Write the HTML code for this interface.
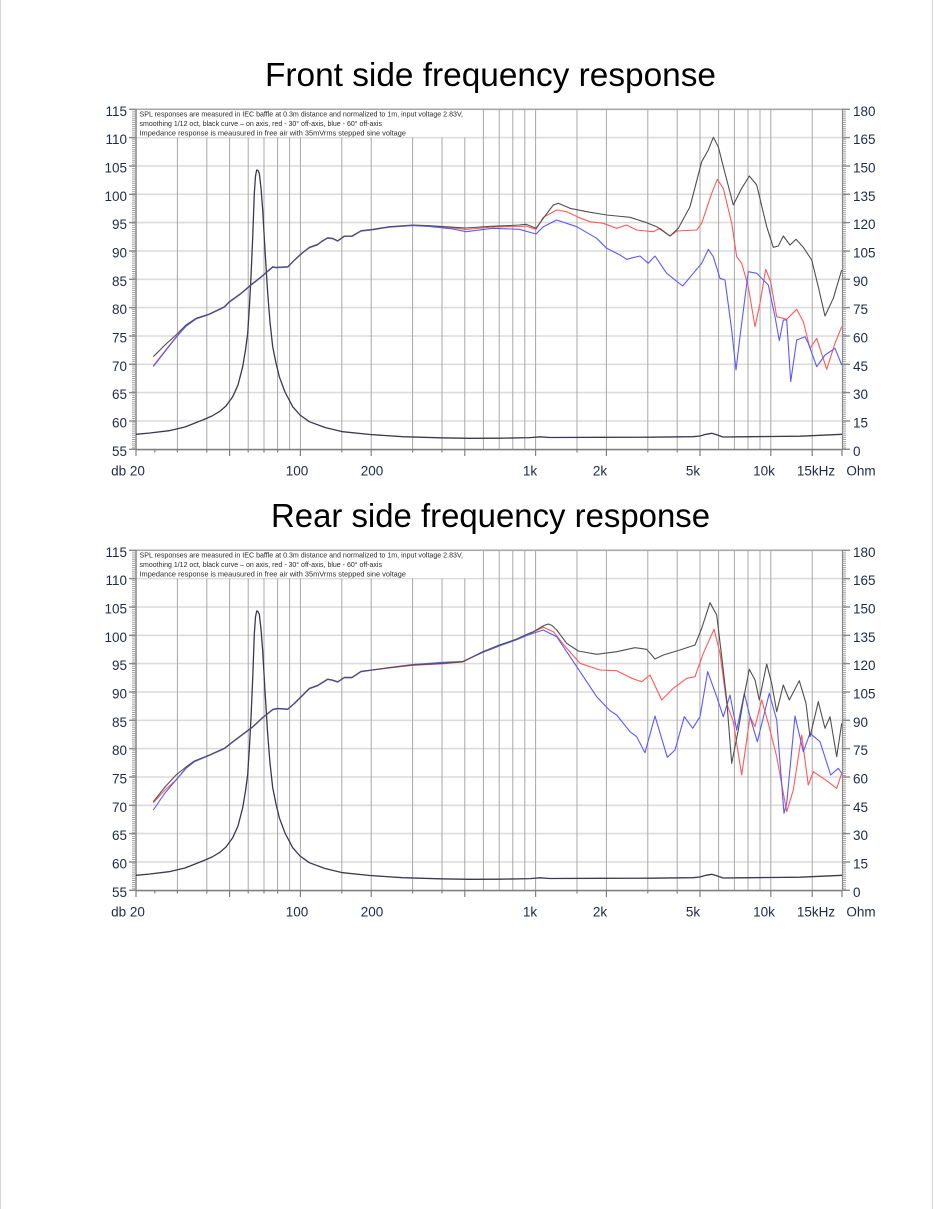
<!DOCTYPE html>
<html><head><meta charset="utf-8"><style>
html,body{margin:0;padding:0;background:#fff;}
svg{display:block;}
text{font-family:"Liberation Sans",Arial,sans-serif;}
</style></head><body>
<svg xmlns="http://www.w3.org/2000/svg" width="934" height="1209" viewBox="0 0 934 1209">
<rect x="0" y="0" width="934" height="1209" fill="#fff"/>
<line x1="0.5" y1="0" x2="0.5" y2="1209" stroke="#d4d4d4" stroke-width="1"/>
<line x1="932.5" y1="0" x2="932.5" y2="1209" stroke="#d4d4d4" stroke-width="1"/>

<defs>
<g id="frame">
  <!-- horizontal grid -->
  <g stroke="#dcdcdc" stroke-width="1.6">
    <line x1="136" y1="137.6" x2="842" y2="137.6"/>
    <line x1="136" y1="166" x2="842" y2="166"/>
    <line x1="136" y1="194.3" x2="842" y2="194.3"/>
    <line x1="136" y1="222.6" x2="842" y2="222.6"/>
    <line x1="136" y1="251" x2="842" y2="251"/>
    <line x1="136" y1="279.3" x2="842" y2="279.3"/>
    <line x1="136" y1="307.6" x2="842" y2="307.6"/>
    <line x1="136" y1="336" x2="842" y2="336"/>
    <line x1="136" y1="364.3" x2="842" y2="364.3"/>
    <line x1="136" y1="392.6" x2="842" y2="392.6"/>
    <line x1="136" y1="421" x2="842" y2="421"/>
  </g>
  <!-- vertical grid -->
  <g stroke="#a8a8a8" stroke-width="1">
    <line x1="177.4" y1="137.6" x2="177.4" y2="449.3"/>
    <line x1="206.8" y1="137.6" x2="206.8" y2="449.3"/>
    <line x1="229.6" y1="137.6" x2="229.6" y2="449.3"/>
    <line x1="248.2" y1="137.6" x2="248.2" y2="449.3"/>
    <line x1="264" y1="137.6" x2="264" y2="449.3"/>
    <line x1="277.6" y1="137.6" x2="277.6" y2="449.3"/>
    <line x1="289.6" y1="137.6" x2="289.6" y2="449.3"/>
    <line x1="300.4" y1="137.6" x2="300.4" y2="449.3"/>
    <line x1="341.8" y1="137.6" x2="341.8" y2="449.3"/>
    <line x1="371.2" y1="137.6" x2="371.2" y2="449.3"/>
    <line x1="412.6" y1="137.6" x2="412.6" y2="449.3"/>
    <line x1="442" y1="137.6" x2="442" y2="449.3"/>
    <line x1="464.8" y1="137.6" x2="464.8" y2="449.3"/>
    <line x1="483.4" y1="109.3" x2="483.4" y2="449.3"/>
    <line x1="499.2" y1="109.3" x2="499.2" y2="449.3"/>
    <line x1="512.8" y1="109.3" x2="512.8" y2="449.3"/>
    <line x1="524.8" y1="109.3" x2="524.8" y2="449.3"/>
    <line x1="535.6" y1="109.3" x2="535.6" y2="449.3"/>
    <line x1="577" y1="109.3" x2="577" y2="449.3"/>
    <line x1="606.4" y1="109.3" x2="606.4" y2="449.3"/>
    <line x1="647.8" y1="109.3" x2="647.8" y2="449.3"/>
    <line x1="677.2" y1="109.3" x2="677.2" y2="449.3"/>
    <line x1="700" y1="109.3" x2="700" y2="449.3"/>
    <line x1="718.6" y1="109.3" x2="718.6" y2="449.3"/>
    <line x1="734.4" y1="109.3" x2="734.4" y2="449.3"/>
    <line x1="748" y1="109.3" x2="748" y2="449.3"/>
    <line x1="760" y1="109.3" x2="760" y2="449.3"/>
    <line x1="770.8" y1="109.3" x2="770.8" y2="449.3"/>
    <line x1="812.2" y1="109.3" x2="812.2" y2="449.3"/>
  </g>
  <!-- top border -->
  <line x1="136" y1="109.3" x2="842" y2="109.3" stroke="#a9a9a9" stroke-width="1.6"/>
  <!-- left axis ruler -->
  <line x1="133.5" y1="109.3" x2="133.5" y2="449.3" stroke="#a0a0a0" stroke-width="3" stroke-dasharray="1 1.1"/>
  <line x1="136" y1="109.3" x2="136" y2="450" stroke="#7a7a7a" stroke-width="1.4"/>
  <g stroke="#8a8a8a" stroke-width="1.4">
    <line x1="129" y1="109.3" x2="136" y2="109.3"/><line x1="129" y1="137.6" x2="136" y2="137.6"/>
    <line x1="129" y1="166" x2="136" y2="166"/><line x1="129" y1="194.3" x2="136" y2="194.3"/>
    <line x1="129" y1="222.6" x2="136" y2="222.6"/><line x1="129" y1="251" x2="136" y2="251"/>
    <line x1="129" y1="279.3" x2="136" y2="279.3"/><line x1="129" y1="307.6" x2="136" y2="307.6"/>
    <line x1="129" y1="336" x2="136" y2="336"/><line x1="129" y1="364.3" x2="136" y2="364.3"/>
    <line x1="129" y1="392.6" x2="136" y2="392.6"/><line x1="129" y1="421" x2="136" y2="421"/>
    <line x1="129" y1="449.3" x2="136" y2="449.3"/>
  </g>
  <!-- right axis ruler -->
  <line x1="844.5" y1="109.3" x2="844.5" y2="449.3" stroke="#a0a0a0" stroke-width="3" stroke-dasharray="1 1.1"/>
  <line x1="842.5" y1="109.3" x2="842.5" y2="450" stroke="#8a8a8a" stroke-width="1.2"/>
  <g stroke="#8a8a8a" stroke-width="1.4">
    <line x1="842" y1="109.3" x2="850" y2="109.3"/><line x1="842" y1="137.6" x2="850" y2="137.6"/>
    <line x1="842" y1="166" x2="850" y2="166"/><line x1="842" y1="194.3" x2="850" y2="194.3"/>
    <line x1="842" y1="222.6" x2="850" y2="222.6"/><line x1="842" y1="251" x2="850" y2="251"/>
    <line x1="842" y1="279.3" x2="850" y2="279.3"/><line x1="842" y1="307.6" x2="850" y2="307.6"/>
    <line x1="842" y1="336" x2="850" y2="336"/><line x1="842" y1="364.3" x2="850" y2="364.3"/>
    <line x1="842" y1="392.6" x2="850" y2="392.6"/><line x1="842" y1="421" x2="850" y2="421"/>
    <line x1="842" y1="449.3" x2="850" y2="449.3"/>
  </g>
  <!-- bottom axis -->
  <line x1="136" y1="449.6" x2="842" y2="449.6" stroke="#808080" stroke-width="1.6"/>
  <g stroke="#808080" stroke-width="1.2">
    <line x1="136" y1="449" x2="136" y2="456"/>
    <line x1="154.8" y1="449" x2="154.8" y2="452.5"/>
    <line x1="177.4" y1="449" x2="177.4" y2="452.5"/>
    <line x1="206.8" y1="449" x2="206.8" y2="452.5"/>
    <line x1="229.6" y1="449" x2="229.6" y2="456"/>
    <line x1="248.2" y1="449" x2="248.2" y2="452.5"/>
    <line x1="264" y1="449" x2="264" y2="452.5"/>
    <line x1="277.6" y1="449" x2="277.6" y2="452.5"/>
    <line x1="300.4" y1="449" x2="300.4" y2="456"/>
    <line x1="341.8" y1="449" x2="341.8" y2="452.5"/>
    <line x1="371.2" y1="449" x2="371.2" y2="456"/>
    <line x1="412.6" y1="449" x2="412.6" y2="452.5"/>
    <line x1="442" y1="449" x2="442" y2="452.5"/>
    <line x1="464.8" y1="449" x2="464.8" y2="456"/>
    <line x1="535.6" y1="449" x2="535.6" y2="456"/>
    <line x1="577" y1="449" x2="577" y2="452.5"/>
    <line x1="606.4" y1="449" x2="606.4" y2="456"/>
    <line x1="647.8" y1="449" x2="647.8" y2="452.5"/>
    <line x1="677.2" y1="449" x2="677.2" y2="452.5"/>
    <line x1="700" y1="449" x2="700" y2="456"/>
    <line x1="770.8" y1="449" x2="770.8" y2="456"/>
    <line x1="812.2" y1="449" x2="812.2" y2="456"/>
    <line x1="842" y1="449" x2="842" y2="456"/>
  </g>
  <!-- text box -->
  <rect x="137" y="110.2" width="345.5" height="26.6" fill="#fff"/>
  <g font-size="7.3" fill="#2a2a2a">
    <text x="139.5" y="116.4" textLength="323.5" lengthAdjust="spacingAndGlyphs">SPL responses are measured in IEC baffle at  0.3m distance and normalized to 1m, input voltage 2.83V,</text>
    <text x="139.5" y="126" textLength="242.5" lengthAdjust="spacingAndGlyphs">smoothing 1/12 oct, black curve – on axis, red - 30° off-axis, blue - 60° off-axis</text>
    <text x="139.5" y="135.4" textLength="266.5" lengthAdjust="spacingAndGlyphs">Impedance response is meausured in free air with 35mVrms stepped sine voltage</text>
  </g>
  <!-- left labels -->
  <g font-size="13.5" fill="#1f2a48" text-anchor="end">
    <text x="127" y="116">115</text><text x="127" y="144.2">110</text>
    <text x="127" y="172.5">105</text><text x="127" y="200.8">100</text>
    <text x="127" y="229.1">95</text><text x="127" y="257.5">90</text>
    <text x="127" y="285.8">85</text><text x="127" y="314.1">80</text>
    <text x="127" y="342.5">75</text><text x="127" y="370.8">70</text>
    <text x="127" y="399.1">65</text><text x="127" y="427.5">60</text>
    <text x="127" y="455.8">55</text>
  </g>
  <!-- right labels -->
  <g font-size="13.5" fill="#1f2a48">
    <text x="853" y="116">180</text><text x="853" y="144.2">165</text>
    <text x="853" y="172.5">150</text><text x="853" y="200.8">135</text>
    <text x="853" y="229.1">120</text><text x="853" y="257.5">105</text>
    <text x="853" y="285.8">90</text><text x="853" y="314.1">75</text>
    <text x="853" y="342.5">60</text><text x="853" y="370.8">45</text>
    <text x="853" y="399.1">30</text><text x="853" y="427.5">15</text>
    <text x="853" y="455.8">0</text>
  </g>
  <!-- bottom labels -->
  <g font-size="13.5" fill="#1f2a48" text-anchor="middle">
    <text x="128" y="475.5">db 20</text>
    <text x="297" y="475.5">100</text>
    <text x="372" y="475.5">200</text>
    <text x="530" y="475.5">1k</text>
    <text x="600" y="475.5">2k</text>
    <text x="693" y="475.5">5k</text>
    <text x="764" y="475.5">10k</text>
    <text x="816" y="475.5">15kHz</text>
    <text x="861" y="475.5">Ohm</text>
  </g>
  <!-- impedance -->
  <polyline fill="none" stroke="#3a3a4c" stroke-width="1.3" stroke-linejoin="round" points="136,434.3 150,433 169,430.7 185,427 202.7,420 212,416 219.3,411.7 226,406 232.7,396.7 238,385 242.7,366.7 245.5,350 247.7,333.3 249.5,305 251,276.7 252.8,235 254.3,193.3 255.5,176 256.7,170 258,170.5 259.3,173.3 261,188 262.7,210 265,250 267.7,293.3 270,322 272.7,346.7 276,363 279.3,376.7 285,392 292.7,406.7 300,415 309.3,421.7 325,427.5 342.7,431.7 370,434.5 402.7,436.7 440,437.8 469.3,438.3 500,438.2 530,437.6 540,436.8 550,437.5 600,437.3 650,437.2 693,436.7 700,436 706,434.3 711.7,433.3 716,434.5 723,437 740,436.8 770,436.5 800,436.2 820,435.3 842,434.3"/>
</g>
</defs>

<!-- Titles -->
<text x="265" y="86" font-size="33" fill="#000" textLength="451" lengthAdjust="spacingAndGlyphs">Front side frequency response</text>
<text x="271" y="527" font-size="33" fill="#000" textLength="439" lengthAdjust="spacingAndGlyphs">Rear side frequency response</text>

<use href="#frame"/>
<use href="#frame" transform="translate(0,441)"/>

<!-- Chart 1 curves -->
<g fill="none" stroke-width="1.1" stroke-linejoin="round">
<polyline stroke="#ff5a5a" points="153.3,365.7 165,351 176,337 186,326 196,318.8 209.3,314.3 224.3,307 229.3,302 240,294.3 252.7,283.6 262,276.3 272.7,267 276,267.6 287.7,267 294.3,260.3 302,253.3 309.3,247.6 317.7,244.6 322,241.3 327.7,238 332.7,238.6 337.7,241 344.3,236.3 352,236.3 361,231 372.7,229.6 389.3,227 412.7,225.3 429.3,226 452.7,228 466,229.5 492.7,227 519.3,226.5 526,226 536,229.5 543.3,217.3 556.7,210 566.7,211.7 578.3,217.3 590,221.7 603.3,223.3 616.7,228.3 626.7,225 636.7,230 653.3,231.7 660,228.3 670,236 676.7,231 696.7,230 701.7,223.3 711.7,193.3 717.3,179.3 723.3,188.3 731.7,223.3 736.7,256.7 741.7,263.3 748.3,286.7 755,326.7 760,303.3 765.7,269.3 770.7,281.7 776.7,316.7 786.7,319.3 796.7,309.3 803.3,321.7 810,348.3 816.7,338.3 826.7,369.3 835,343.3 841.7,326.7"/>
<polyline stroke="#5a5aff" points="153.3,366.5 165,351.5 176,337.5 186,326.3 196,319 209.3,314.5 224.3,307.3 229.3,302.3 240,294.6 252.7,284 262,276.6 272.7,267.3 276,267.8 287.7,267.2 294.3,260.5 302,253.5 309.3,247.8 317.7,244.8 322,241.5 327.7,238.2 332.7,238.8 337.7,241.2 344.3,236.5 352,236.5 361,231.2 372.7,229.8 389.3,227.2 412.7,225.6 429.3,226.4 452.7,229 466,231.7 492.7,228.3 519.3,229.3 536,234 543.3,226.7 556.7,220 576.7,226.7 596.7,238.3 606.7,248.3 620,255 626.7,259.3 640,256 648.3,263.3 655,256 666.7,273.3 682.7,286 693.3,273.3 701.7,263.3 708.3,249.3 713.3,256.7 720,278.3 725,280 731.7,330 736,370 740,336.7 748.3,271.7 756.7,273.3 768.3,285 775,316.7 779.3,340.7 783.3,320 786.7,320 790.7,381.7 796.7,340 805,336.7 808.3,343.3 816.7,366.7 825,355 835,348.3 841.7,365"/>
<polyline stroke="#505050" points="153.3,356.7 165,345 176,335 186,325 196,318.3 209.3,314 224.3,306.7 229.3,301.7 240,294 252.7,283.3 262,276 272.7,266.7 276,267.3 287.7,266.7 294.3,260 302,253 309.3,247.3 317.7,244.3 322,241 327.7,237.7 332.7,238.3 337.7,240.7 344.3,236 352,236 361,230.7 372.7,229.3 389.3,226.7 412.7,225 429.3,225.7 452.7,227.2 466,228 480,227 492.7,226.2 510,225.5 519.3,225 526,224.3 536,228.3 543.3,218.3 553.3,205 558.3,203.3 570,208.3 586.7,211.7 606.7,215 616.7,216 630,217.3 646.7,222.7 656.7,226.7 670,236 678.3,228.3 690,206.7 701.7,161.7 708.3,150 713.3,137.3 718.3,146.7 725,173.3 733.3,205 741.7,188.3 749.3,176 756.7,185 766.7,226.7 773.3,247.3 778.3,246 783.3,236 790,245 796,239.3 803.3,247.3 811.7,260 818.3,286.7 825,316 833.3,298.3 841.7,270"/>
</g>

<!-- Chart 2 curves -->
<g fill="none" stroke-width="1.1" stroke-linejoin="round">
<polyline stroke="#ff5a5a" points="153.3,802.7 165,790 176,780 186,768 194.3,761.5 209.3,755.3 224.3,748.6 232.7,742 252.7,727 262,718.3 272.7,709.6 277.7,708.6 287.7,709.3 294.3,703.6 309.3,688.6 317.7,685.6 327.7,679.3 332.7,680.3 337.7,682 344.3,677.6 352,677.6 361,671.6 389.3,668 412.7,665.3 442.7,663.8 462.7,662 482.7,652 499.3,645.5 516,639.5 529.3,634 543.3,627.3 553.3,631.7 566.7,648.3 580,663.3 600,670 616.7,670.7 631.7,678.3 641.7,681.7 650,675 661.7,700 673.3,688.3 686.7,678.3 695,676.7 703.3,653.3 714,629.3 720,653.3 726.7,703.3 733.3,721.7 741.7,775 750,716.7 755,726.7 761.7,700 768.3,723.3 776.7,756.7 786.7,811.7 793.3,790 801.7,735 808.3,785 813.3,771.7 823.3,778.3 836.7,788.3 841.7,773.3"/>
<polyline stroke="#5a5aff" points="153.3,810 165,793 176,780 186,768.5 194.3,761.8 209.3,755.5 224.3,748.8 232.7,742.2 252.7,727.2 262,718.5 272.7,709.8 277.7,708.8 287.7,709.5 294.3,703.8 309.3,688.8 317.7,685.8 327.7,679.5 332.7,680.5 337.7,682.2 344.3,677.8 352,677.8 361,671.8 389.3,667.5 412.7,664.5 442.7,662.3 462.7,661.5 482.7,652.5 499.3,646 516,640 529.3,634.5 543.3,630 556.7,636.7 576.7,666.7 596.7,696.7 610,710.7 616.7,715 630,731.7 636.7,736.7 645,752.7 655,716 667.3,757.3 675,750 684.3,716.7 692.7,728.3 700,716.7 707.7,671.7 716.7,696.7 723.3,716.7 730,695 736.7,730 744.3,693.3 750,716.7 757.3,741.7 769.3,693.3 776.7,720 784,813.3 786.7,803.3 795,716 803.3,751.7 810,733.3 820,741.7 830.7,775 838.3,768.3 841.7,773.3"/>
<polyline stroke="#505050" points="153.3,801.7 165,787 176,775 186,767 194.3,761 209.3,755 224.3,748.3 232.7,741.7 252.7,726.7 262,718 272.7,709.3 277.7,708.3 287.7,709 294.3,703.3 309.3,688.3 317.7,685.3 327.7,679 332.7,680 337.7,681.7 344.3,677.3 352,677.3 361,671.3 389.3,667.7 412.7,665 442.7,663.3 462.7,661.7 482.7,651.7 499.3,645 516,639.3 529.3,633.3 533.3,631.7 544,625.5 548.3,624 552,625.5 556.7,630 566.7,643.3 578.3,651 596.7,654.3 616.7,651.7 635,647.7 646.7,649.3 655,659 663.3,655 680,650 695,645 701.7,628.3 710,602.7 716.7,615 721.7,656.7 726.7,700 731.7,763.3 738.3,730 743.3,700 749.3,669.3 755,680 759.3,700 766.7,664 771.7,683.3 776.7,711.7 783.3,685 789.3,700 799.3,680.7 806,703.3 810,736.7 818.3,701.7 825,728.3 830,716.7 836.7,756.7 841.7,723.3"/>
</g>
</svg>
</body></html>
